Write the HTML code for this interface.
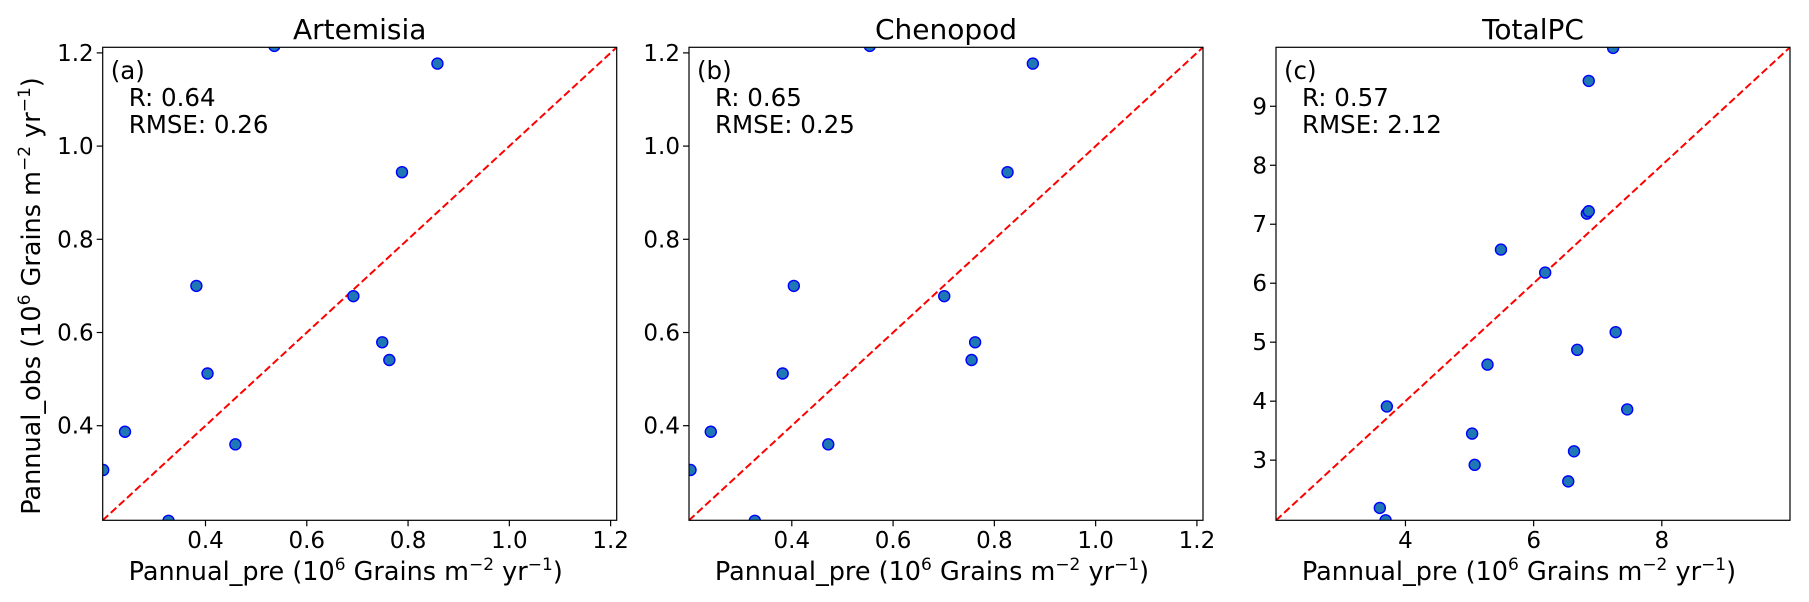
<!DOCTYPE html>
<html><head><meta charset="utf-8"><style>
body{margin:0;background:#fff}
svg{display:block;font-family:"DejaVu Sans","Liberation Sans",sans-serif}
</style></head><body>
<svg id="fig" width="1809" height="602" xmlns="http://www.w3.org/2000/svg"></svg>
<script>
const titles = ["Artemisia","Chenopod","TotalPC"];
const tags = ["(a)","(b)","(c)"];
const rVals = ["0.64","0.65","0.57"];
const rmseVals = ["0.26","0.25","2.12"];
const limits = [[0.197,1.212],[0.197,1.212],[1.98,10.0]];
const ticks1 = [0.4,0.6,0.8,1.0,1.2];
const ticks3 = [4,6,8];
const yticks3 = [3,4,5,6,7,8,9];
const tickLabels1 = ["0.4","0.6","0.8","1.0","1.2"];
const tickLabels3 = ["4","6","8"];
const ytickLabels3 = ["3","4","5","6","7","8","9"];
const artX = [0.198,0.241,0.327,0.382,0.404,0.459,0.536,0.692,0.749,0.763,0.788,0.858];
const artY = [0.305,0.387,0.196,0.700,0.512,0.360,1.215,0.678,0.579,0.541,0.944,1.177];
const cheX = [0.200,0.240,0.327,0.382,0.404,0.472,0.554,0.701,0.755,0.762,0.826,0.876];
const cheY = [0.305,0.387,0.196,0.512,0.700,0.360,1.215,0.678,0.541,0.579,0.944,1.177];
const totX = [3.60,3.69,3.71,5.04,5.08,5.28,5.49,6.18,6.54,6.63,6.68,6.83,6.86,6.86,7.24,7.28,7.46];
const totY = [2.19,1.98,3.91,3.45,2.92,4.62,6.57,6.18,2.64,3.15,4.87,7.18,7.22,9.43,9.99,5.17,3.86];

const NS="http://www.w3.org/2000/svg";
const fig=document.getElementById('fig');
function mk(tag,attrs,parent){const e=document.createElementNS(NS,tag);for(const k in attrs)e.setAttribute(k,attrs[k]);(parent||fig).appendChild(e);return e;}

const lefts=[102.7,689,1276], W=514, plotTop=47.3, H=473;
const series=[[artX,artY],[cheX,cheY],[totX,totY]];
const SUP='<tspan dy="-10" font-size="17">6</tspan><tspan dy="10"> Grains m</tspan><tspan dy="-10" font-size="17">−2</tspan><tspan dy="10"> yr</tspan><tspan dy="-10" font-size="17">−1</tspan><tspan dy="10">)</tspan>';
for(let p=0;p<3;p++){
  const L=lefts[p],lo=limits[p][0],hi=limits[p][1];
  const sx=v=>L+(v-lo)/(hi-lo)*W;
  const sy=v=>plotTop+H-(v-lo)/(hi-lo)*H;
  const g=mk('g',{});
  
  
  const cp=mk('clipPath',{id:'c'+p},g);
  mk('rect',{x:L,y:plotTop,width:W,height:H},cp);
  const t=mk('text',{x:L+W/2,y:39,'text-anchor':'middle','font-size':28},g);
  t.textContent=titles[p];
  
  
  const ln=mk('line',{x1:sx(lo),y1:sy(lo),x2:sx(hi),y2:sy(hi),stroke:'#ff0000','stroke-width':2,'stroke-dasharray':'7.5,3.5','clip-path':'url(#c'+p+')'},g);
  
  
  const xs=series[p][0],ys=series[p][1];
  for(let i=0;i<xs.length;i++){
    const c=mk('circle',{cx:sx(xs[i]),cy:sy(ys[i]),r:5.5,fill:'#1f77b4',stroke:'#0000ff','stroke-width':1.4,'clip-path':'url(#c'+p+')'},g);
    
    
  }
  const fr=mk('rect',{x:L,y:plotTop,width:W,height:H,fill:'none',stroke:'#000','stroke-width':1.2},g);
  
  
  const xt=p<2?ticks1:ticks3, xl=p<2?tickLabels1:tickLabels3;
  const yt=p<2?ticks1:yticks3, yl=p<2?tickLabels1:ytickLabels3;
  for(let i=0;i<xt.length;i++){
    const x=sx(xt[i]);
    mk('line',{x1:x,y1:plotTop+H,x2:x,y2:plotTop+H+6,stroke:'#000','stroke-width':1.2},g);
    const tl=mk('text',{x:x,y:548,'text-anchor':'middle','font-size':23},g);
    tl.textContent=xl[i];
    
    
  }
  for(let i=0;i<yt.length;i++){
    const y=sy(yt[i]);
    mk('line',{x1:L-6,y1:y,x2:L,y2:y,stroke:'#000','stroke-width':1.2},g);
    const tl=mk('text',{x:L-9,y:y+8,'text-anchor':'end','font-size':23},g);
    tl.textContent=yl[i];
    
    
  }
  const a=mk('text',{x:L+8,y:79,'font-size':24.5},g);a.textContent=tags[p];
  
  
  const r=mk('text',{x:L+26,y:106,'font-size':24.5},g);r.textContent='R: '+rVals[p];
  
  
  const m=mk('text',{x:L+26,y:133,'font-size':24.5},g);m.textContent='RMSE: '+rmseVals[p];
  
  
  const xlab=mk('text',{x:L+W/2-14,y:580,'text-anchor':'middle','font-size':25.5},g);
  xlab.innerHTML='Pannual_pre (10'+SUP;
  
  
}
const ylab=mk('text',{x:0,y:0,'text-anchor':'middle','font-size':25.5,transform:'translate(40,296) rotate(-90)'});
ylab.innerHTML='Pannual_obs (10'+SUP;


</script>
</body></html>
